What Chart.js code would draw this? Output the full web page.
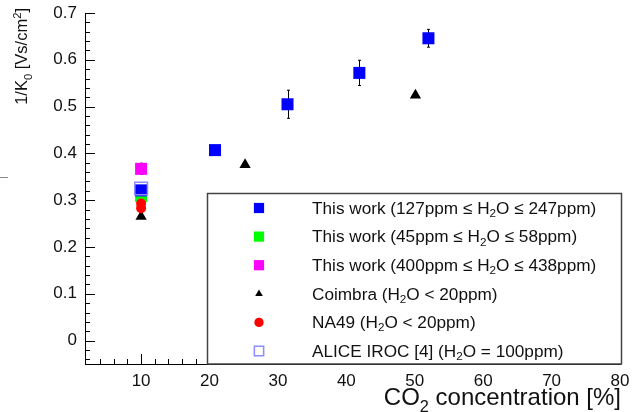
<!DOCTYPE html>
<html>
<head>
<meta charset="utf-8">
<script src="https://cdn.jsdelivr.net/npm/chart.js@4.4.1/dist/chart.umd.min.js"></script>
<style>
    html, body { margin: 0; padding: 0; background: #fff; }
    #wrap { width: 632px; height: 412px; }
</style>
</head>
<body>
<div id="wrap"><canvas id="chart" width="632" height="412"></canvas></div>
<script>
// Axis ticks
const xTicks = [10, 20, 30, 40, 50, 60, 70, 80];
const yTicks = [0, 0.1, 0.2, 0.3, 0.4, 0.5, 0.6, 0.7];

// This work, 127ppm <= H2O <= 247ppm
const blueX = [10, 20.8, 31.4, 41.9, 52];
const blueY = [0.321, 0.407, 0.505, 0.572, 0.646];
const blueErr = [0.008, 0.005, 0.030, 0.027, 0.019];

// This work, 45ppm <= H2O <= 58ppm
const greenX = [10];
const greenY = [0.309];
const greenErr = [0.005];

// This work, 400ppm <= H2O <= 438ppm
const magentaX = [10];
const magentaY = [0.367];
const magentaErr = [0.012];

// Coimbra
const coimbraX = [10, 25.2, 50.1];
const coimbraY = [0.265, 0.376, 0.524];

// NA49
const na49X = [10, 10];
const na49Y = [0.293, 0.283];

// ALICE IROC
const aliceX = [10];
const aliceY = [0.325];

const legendLabels = [
    'This work (127ppm \u2264 H_2O \u2264 247ppm)',
    'This work (45ppm \u2264 H_2O \u2264 58ppm)',
    'This work (400ppm \u2264 H_2O \u2264 438ppm)',
    'Coimbra (H_2O < 20ppm)',
    'NA49 (H_2O < 20ppm)',
    'ALICE IROC [4] (H_2O = 100ppm)'
];
const yTitle = '1/K_0 [Vs/cm^2]';
const xTitle = 'CO_2 concentration [%]';

const FONT = "'Liberation Sans', Arial, sans-serif";

function toPoints(xs, ys) {
    return xs.map((x, i) => ({ x: x, y: ys[i] }));
}

// split "_x" (subscript) and "^x" (superscript) markers
function richParts(str) {
    const parts = [];
    let buf = '';
    for (let i = 0; i < str.length; i++) {
        const c = str[i];
        if ((c === '_' || c === '^') && i + 1 < str.length) {
            if (buf) parts.push({ t: buf, k: 0 });
            buf = '';
            parts.push({ t: str[i + 1], k: c === '_' ? 1 : -1 });
            i++;
        } else {
            buf += c;
        }
    }
    if (buf) parts.push({ t: buf, k: 0 });
    return parts;
}

function drawRich(ctx, str, x, y, size, align) {
    const parts = richParts(str);
    const small = size * 0.68;
    let w = 0;
    parts.forEach(p => {
        ctx.font = (p.k ? small : size) + 'px ' + FONT;
        p.w = ctx.measureText(p.t).width;
        w += p.w;
    });
    let cx = align === 'right' ? x - w : x;
    parts.forEach(p => {
        ctx.font = (p.k ? small : size) + 'px ' + FONT;
        let dy = 0;
        if (p.k === 1) dy = size * 0.28;
        if (p.k === -1) dy = -size * 0.38;
        ctx.fillText(p.t, cx, y + dy);
        cx += p.w;
    });
}

const datasets = [
    { label: legendLabels[0], data: toPoints(blueX, blueY), err: blueErr, pointStyle: 'rect', radius: 8.5,
      backgroundColor: '#0000ff', borderColor: '#0000ff', borderWidth: 0, order: 1 },
    { label: legendLabels[1], data: toPoints(greenX, greenY), err: greenErr, pointStyle: 'rect', radius: 8.5,
      backgroundColor: '#00ff00', borderColor: '#00ff00', borderWidth: 0, order: 3 },
    { label: legendLabels[2], data: toPoints(magentaX, magentaY), err: magentaErr, pointStyle: 'rect', radius: 8.5,
      backgroundColor: '#ff00ff', borderColor: '#ff00ff', borderWidth: 0, order: 1 },
    { label: legendLabels[3], data: toPoints(coimbraX, coimbraY), pointStyle: 'triangle', radius: 6.5,
      backgroundColor: '#000000', borderColor: '#000000', borderWidth: 0, order: 4 },
    { label: legendLabels[4], data: toPoints(na49X, na49Y), pointStyle: 'circle', radius: 5,
      backgroundColor: '#ff0000', borderColor: '#ff0000', borderWidth: 0, order: 2 },
    { label: legendLabels[5], data: toPoints(aliceX, aliceY), pointStyle: 'rect', radius: 9,
      backgroundColor: 'rgba(0,0,0,0)', borderColor: '#8c8cff', borderWidth: 1.5, order: 0 }
];

const rootStyle = {
    id: 'rootStyle',
    beforeDatasetsDraw(chart) {
        const ctx = chart.ctx;
        const xs = chart.scales.x, ys = chart.scales.y;
        ctx.save();
        ctx.strokeStyle = '#000';
        ctx.lineWidth = 1;
        chart.data.datasets.forEach(ds => {
            if (!ds.err) return;
            ds.data.forEach((p, i) => {
                const px = Math.round(xs.getPixelForValue(p.x)) + 0.5;
                const y1 = ys.getPixelForValue(p.y + ds.err[i]);
                const y2 = ys.getPixelForValue(p.y - ds.err[i]);
                ctx.beginPath();
                ctx.moveTo(px, y1); ctx.lineTo(px, y2);
                ctx.moveTo(px - 1.5, y1); ctx.lineTo(px + 1.5, y1);
                ctx.moveTo(px - 1.5, y2); ctx.lineTo(px + 1.5, y2);
                ctx.stroke();
            });
        });
        ctx.restore();
    },
    afterDraw(chart) {
        const ctx = chart.ctx;
        const a = chart.chartArea;
        const xs = chart.scales.x, ys = chart.scales.y;
        ctx.save();
        ctx.strokeStyle = '#000';
        ctx.lineWidth = 1;

        // inward tick marks
        ctx.beginPath();
        for (let i = -2; i <= 35; i++) {
            const py = Math.round(ys.getPixelForValue(i * 0.02)) + 0.5;
            const len = i % 5 === 0 ? 10 : 5;
            ctx.moveTo(a.left, py); ctx.lineTo(a.left + len, py);
        }
        for (let v = 4; v <= 80; v += 2) {
            const px = Math.round(xs.getPixelForValue(v)) + 0.5;
            const len = v % 10 === 0 ? 10 : 5;
            ctx.moveTo(px, a.bottom); ctx.lineTo(px, a.bottom - len);
        }
        ctx.stroke();

        // small stray mark left of the y title
        ctx.strokeStyle = '#888';
        ctx.beginPath();
        ctx.moveTo(0, 177.5); ctx.lineTo(8, 177.5);
        ctx.stroke();

        // legend box
        const lx = 207.5, ly = 193.5, lr = a.right + 1.5, lb = a.bottom;
        ctx.fillStyle = '#fff';
        ctx.fillRect(lx, ly, lr - lx, lb - ly);
        ctx.strokeStyle = '#444';
        ctx.lineWidth = 1.5;
        ctx.strokeRect(lx, ly, lr - lx, lb - ly);

        const rowH = 28.6;
        const markerScale = [0.85, 0.85, 0.85, 0.68, 0.93, 0.73];
        chart.data.datasets.forEach((ds, i) => {
            const cy = 208 + i * rowH;
            ctx.fillStyle = ds.backgroundColor;
            ctx.strokeStyle = ds.borderColor;
            ctx.lineWidth = ds.borderWidth;
            Chart.helpers.drawPoint(ctx, {
                pointStyle: ds.pointStyle,
                radius: ds.radius * markerScale[i],
                rotation: 0,
                borderWidth: ds.borderWidth
            }, 259, cy);
            ctx.fillStyle = '#111';
            ctx.textBaseline = 'middle';
            drawRich(ctx, ds.label, 312, cy + 1, 17.2, 'left');
        });

        // axis titles
        ctx.fillStyle = '#111';
        ctx.textBaseline = 'alphabetic';
        drawRich(ctx, xTitle, a.right + 1, 405, 24, 'right');
        ctx.save();
        ctx.translate(27, 8);
        ctx.rotate(-Math.PI / 2);
        drawRich(ctx, yTitle, 0, 0, 16.5, 'right');
        ctx.restore();

        ctx.restore();
    }
};

new Chart(document.getElementById('chart'), {
    type: 'scatter',
    data: { datasets: datasets },
    options: {
        responsive: false,
        animation: false,
        layout: { padding: { left: 0, top: 13, right: 12, bottom: 0 } },
        plugins: {
            legend: { display: false },
            tooltip: { enabled: false }
        },
        scales: {
            x: {
                type: 'linear',
                min: 1.8,
                max: 80,
                afterBuildTicks: s => { s.ticks = xTicks.map(v => ({ value: v })); },
                afterFit: s => { s.height = 48; s.paddingLeft = 0; s.paddingRight = 0; },
                grid: { display: false, drawTicks: false },
                border: { display: true, color: '#000', width: 1 },
                ticks: {
                    padding: 7,
                    color: '#111',
                    font: { family: FONT, size: 17 },
                    maxRotation: 0,
                    callback: v => String(v)
                }
            },
            y: {
                type: 'linear',
                min: -0.05,
                max: 0.7,
                afterBuildTicks: s => { s.ticks = yTicks.map(v => ({ value: v })); },
                afterFit: s => { s.width = 85; s.paddingTop = 0; s.paddingBottom = 0; },
                grid: { display: false, drawTicks: false },
                border: { display: true, color: '#000', width: 1 },
                ticks: {
                    padding: 8,
                    color: '#111',
                    font: { family: FONT, size: 17 },
                    callback: v => (Math.round(v * 10) / 10).toString()
                }
            }
        }
    },
    plugins: [rootStyle]
});
</script>
</body>
</html>
